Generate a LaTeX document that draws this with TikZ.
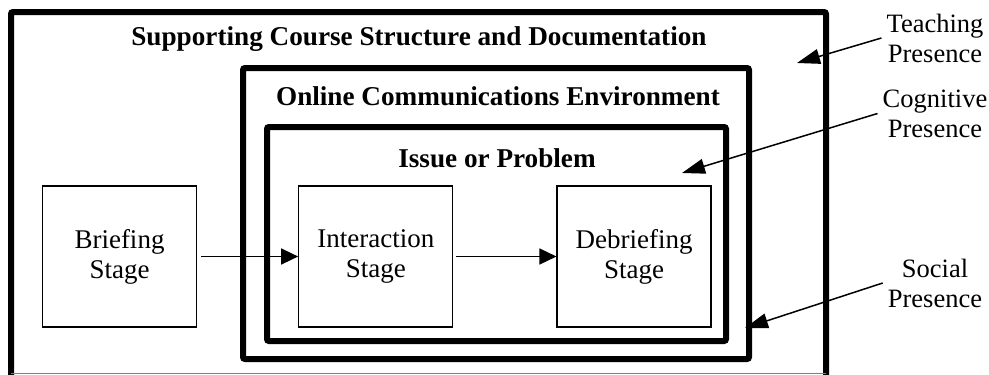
\documentclass[tikz,border=0pt]{standalone}
\usepackage{fontspec}
\setmainfont{Liberation Serif}
\usepackage{tikz}
\usetikzlibrary{positioning}
\usetikzlibrary{arrows.meta}
\tikzset{
	stagenode/.style={rectangle, draw, line width=1.3pt, minimum width=154pt, minimum height=141pt, align=center, font=\fontsize{27}{30}\selectfont},
	labelnode/.style={align=center, inner sep=5pt, font=\fontsize{26.5}{30}\selectfont},
	titlenode/.style={anchor=base, inner sep=0pt, font=\fontsize{27.2}{30}\selectfont\bfseries},
	framebox/.style={line width=6pt, rounded corners=2pt},
	flowarrow/.style={-{Triangle[length=17pt,width=16pt]}, line width=1.5pt},
	presarrow/.style={-{Triangle[length=23pt,width=15pt]}, line width=1.5pt}
}

\begin{document}
\begin{tikzpicture}[x=1pt, y=-1pt]
		\useasboundingbox (0,0) rectangle (989,375);
		%Frames
		\draw[framebox] (11,380) -- (11,12) -- (826,12) -- (826,380);
		\draw[gray, line width=1pt] (11,373.5) -- (826,373.5);
		\draw[framebox] (243,68) rectangle (749,359);
		\draw[framebox] (267,127) rectangle (726,341);
		
		\node[titlenode] at (419,45) (course)   {Supporting Course Structure and Documentation};
		\node[titlenode] at (498,105) (online)  {Online Communications Environment};
		\node[titlenode] at (497,167) (issue)   {Issue or Problem};
		
		%Stages
		\node[stagenode] at (119.5,256.5) (brief) {Briefing\\Stage};
		\node[stagenode, right=101pt of brief] (inter) {Interaction\\Stage};
		\node[stagenode, right=103pt of inter] (debrief) {Debriefing\\Stage};
		
		%Presences
		\node[labelnode] at (935,38) (teach)  {Teaching\\Presence};
		\node[labelnode] at (935,113.5) (cogn) {Cognitive\\Presence};
		\node[labelnode] at (935,283) (social) {Social\\Presence};
		\coordinate (tteach) at (797,63);
		\coordinate (tcogn) at (682,173);
		\coordinate (tsocial) at (745,328);
		
		%Lines
		\draw[flowarrow, shorten <=4pt] (brief.east) -- (inter.west);
		\draw[flowarrow, shorten <=3pt] (inter.east) -- (debrief.west);
		\draw[presarrow] (teach.west) -- (tteach);
		\draw[presarrow] (cogn.west) -- (tcogn);
		\draw[presarrow] (social.west) -- (tsocial);
		
	\end{tikzpicture}
\end{document}
